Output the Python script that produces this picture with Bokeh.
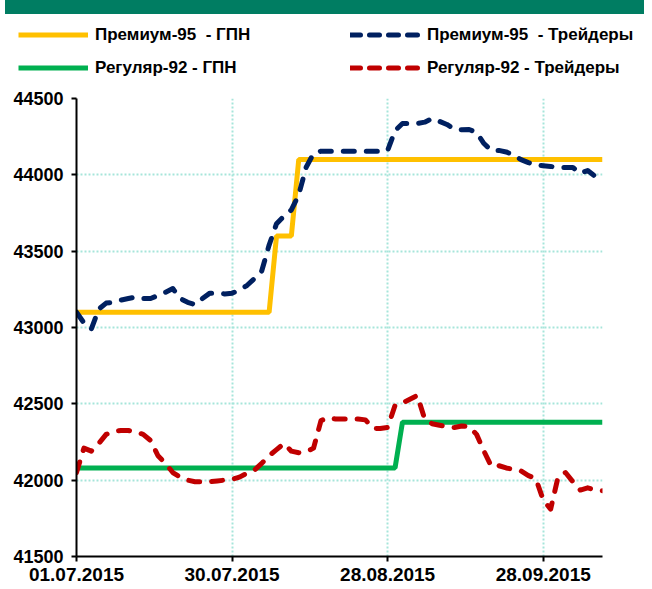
from bokeh.plotting import figure
from bokeh.models import Legend, LegendItem, FixedTicker, Div, Range1d
from bokeh.embed import file_html
from bokeh.resources import INLINE

# ---- data -----------------------------------------------------------------
tick_labels = ["01.07.2015", "30.07.2015", "28.08.2015", "28.09.2015"]
tick_index = [0, 21, 42, 63]
y_ticks = [41500, 42000, 42500, 43000, 43500, 44000, 44500]

prem95_gpn = [43100, 43100, 43100, 43100, 43100, 43100, 43100, 43100, 43100, 43100,
              43100, 43100, 43100, 43100, 43100, 43100, 43100, 43100, 43100, 43100,
              43100, 43100, 43100, 43100, 43100, 43100, 43100, 43600, 43600, 43600,
              44100, 44100, 44100, 44100, 44100, 44100, 44100, 44100, 44100, 44100,
              44100, 44100, 44100, 44100, 44100, 44100, 44100, 44100, 44100, 44100,
              44100, 44100, 44100, 44100, 44100, 44100, 44100, 44100, 44100, 44100,
              44100, 44100, 44100, 44100, 44100, 44100, 44100, 44100, 44100, 44100,
              44100, 44100]

reg92_gpn = [42080, 42080, 42080, 42080, 42080, 42080, 42080, 42080, 42080, 42080,
             42080, 42080, 42080, 42080, 42080, 42080, 42080, 42080, 42080, 42080,
             42080, 42080, 42080, 42080, 42080, 42080, 42080, 42080, 42080, 42080,
             42080, 42080, 42080, 42080, 42080, 42080, 42080, 42080, 42080, 42080,
             42080, 42080, 42080, 42080, 42380, 42380, 42380, 42380, 42380, 42380,
             42380, 42380, 42380, 42380, 42380, 42380, 42380, 42380, 42380, 42380,
             42380, 42380, 42380, 42380, 42380, 42380, 42380, 42380, 42380, 42380,
             42380, 42380]

prem95_tr = [43100, 43030, 42990, 43120, 43160, 43165, 43180, 43190, 43200, 43190,
             43190, 43210, 43230, 43255, 43190, 43165, 43150, 43190, 43225, 43225,
             43220, 43225, 43245, 43275, 43320, 43370, 43540, 43680, 43730, 43770,
             43870, 44050, 44140, 44155, 44155, 44155, 44155, 44155, 44155, 44155,
             44155, 44155, 44160, 44290, 44336, 44336, 44336, 44345, 44369, 44350,
             44330, 44300, 44295, 44297, 44277, 44205, 44160, 44160, 44150, 44130,
             44100, 44080, 44065, 44060, 44055, 44048, 44048, 44048, 44010, 44028,
             43990, 43975]

reg92_tr = [42050, 42210, 42190, 42240, 42300, 42320, 42325, 42325, 42315, 42300,
            42260, 42160, 42110, 42050, 42020, 42000, 41990, 41990, 41990, 41995,
            42000, 42005, 42020, 42045, 42065, 42110, 42160, 42200, 42240, 42190,
            42180, 42185, 42210, 42390, 42410, 42400, 42400, 42400, 42400, 42395,
            42340, 42338, 42345, 42490, 42505, 42530, 42555, 42400, 42370, 42360,
            42350, 42345, 42355, 42350, 42300, 42190, 42090, 42095, 42080, 42070,
            42060, 42030, 42010, 41870, 41810, 42020, 42050, 41990, 41935, 41950,
            41935, 41930]

x = list(range(len(prem95_tr)))

FONT = "Liberation Sans"
C_P95_GPN, C_R92_GPN = "#FFC000", "#00B050"
C_P95_TR, C_R92_TR = "#002060", "#C00000"
DASH = "11 12"

# ---- main chart -----------------------------------------------------------
p = figure(width=647, height=505, output_backend="svg", toolbar_location=None,
           x_range=Range1d(x[0], x[-1]), y_range=Range1d(y_ticks[0], y_ticks[-1]),
           min_border_left=79, min_border_right=42, min_border_top=14,
           min_border_bottom=33, margin=(0, -8, -8, -3))
p.outline_line_color = None
p.background_fill_color = "white"
p.border_fill_color = "white"

grid_color = "#A6E5DA"
p.xgrid.ticker = FixedTicker(ticks=tick_index[1:])
p.ygrid.ticker = FixedTicker(ticks=y_ticks[1:])
for g in (p.xgrid, p.ygrid):
    g.grid_line_color = grid_color
    g.grid_line_width = 2
    g.grid_line_dash = "2 2"

p.xaxis.ticker = FixedTicker(ticks=tick_index)
p.xaxis.major_label_overrides = {i: l for i, l in zip(tick_index, tick_labels)}
p.yaxis.ticker = FixedTicker(ticks=y_ticks)
for ax in (p.xaxis, p.yaxis):
    ax.axis_line_color = "black"
    ax.axis_line_width = 2
    ax.major_tick_line_color = "black"
    ax.major_tick_line_width = 2
    ax.major_tick_out = 5
    ax.major_tick_in = 0
    ax.minor_tick_line_color = None
    ax.major_label_text_font = FONT
    ax.major_label_text_font_style = "bold"
    ax.major_label_text_font_size = "18px"
    ax.major_label_text_color = "black"
p.xaxis.major_label_text_font_size = "19px"
p.xaxis.major_label_standoff = 6
p.yaxis.major_label_standoff = 8

p.line(x, prem95_gpn, line_color=C_P95_GPN, line_width=5)
p.line(x, reg92_gpn, line_color=C_R92_GPN, line_width=5)
p.line(x, prem95_tr, line_color=C_P95_TR, line_width=5,
       line_dash=DASH, line_cap="round", line_join="round")
p.line(x, reg92_tr, line_color=C_R92_TR, line_width=5,
       line_dash=DASH, line_cap="round", line_join="round")

# ---- legend strip (own root, series drawn outside its visible range) -------
lg = figure(width=647, height=70, output_backend="svg", toolbar_location=None,
            x_axis_location=None, y_axis_location=None, min_border=0,
            x_range=Range1d(-2, -1), y_range=Range1d(0, 1),
            margin=(0, -8, 0, -3))
lg.grid.visible = False
lg.outline_line_color = None
lg.background_fill_color = "white"
lg.border_fill_color = "white"
k1 = lg.line(x, prem95_gpn, line_color=C_P95_GPN, line_width=5)
k2 = lg.line(x, reg92_gpn, line_color=C_R92_GPN, line_width=5)
k3 = lg.line(x, prem95_tr, line_color=C_P95_TR, line_width=5, line_dash="10 9",
             line_cap="round")
k4 = lg.line(x, reg92_tr, line_color=C_R92_TR, line_width=5, line_dash="10 9",
             line_cap="round")

legend = Legend(items=[
    LegendItem(label="Премиум-95  - ГПН", renderers=[k1]),
    LegendItem(label="Премиум-95  - Трейдеры", renderers=[k3]),
    LegendItem(label="Регуляр-92 - ГПН", renderers=[k2]),
    LegendItem(label="Регуляр-92 - Трейдеры", renderers=[k4]),
], orientation="horizontal", ncols=2, location=(21, 0))
legend.padding = 0
legend.margin = 0
legend.spacing = 0
legend.glyph_width = 70
legend.glyph_height = 33
legend.label_height = 33
legend.label_width = 255
legend.label_standoff = 7
legend.border_line_color = None
legend.background_fill_alpha = 0
legend.label_text_font = FONT
legend.label_text_font_style = "bold"
legend.label_text_font_size = "17px"
legend.label_text_color = "black"
lg.add_layout(legend, "center")

bar = Div(text="", width=639, height=22, margin=(-8, -8, 0, 5),
          styles={"background-color": "#007D62"})

open("out.html", "w").write(file_html([bar, lg, p], INLINE))
